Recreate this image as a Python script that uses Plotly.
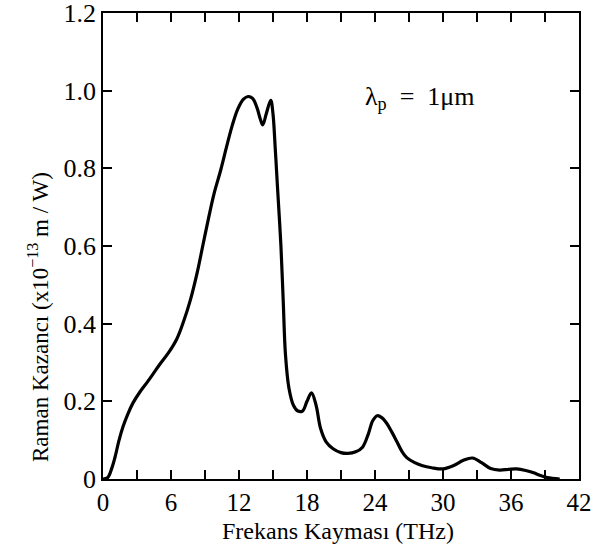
import plotly.graph_objects as go

freq_thz = [0.0, 0.4, 0.8, 1.06, 1.4, 1.77, 2.2, 2.65, 3.3, 3.97, 4.5, 5.0, 5.8, 6.5, 7.1, 7.7,
            8.3, 8.8, 9.3, 9.8, 10.4, 10.9, 11.4, 11.9, 12.4, 12.8, 13.2, 13.6, 13.9, 14.1, 14.4,
            14.8, 15.0, 15.2, 15.4, 15.7, 15.9, 16.1, 16.4, 16.8, 17.2, 17.6, 18.0, 18.4, 18.8,
            19.2, 19.7, 20.3, 21.0, 21.6, 22.3, 22.9, 23.4, 23.8, 24.2, 24.6, 25.0, 25.5, 25.9,
            26.4, 26.8, 27.5, 28.2, 29.0, 30.0, 30.9, 31.8, 32.6, 33.4, 34.2, 35.0, 35.8, 36.5,
            37.3, 38.0, 38.6, 39.2, 40.3]
gain = [0.0, 0.003, 0.03, 0.056, 0.098, 0.135, 0.168, 0.196, 0.226, 0.252, 0.274, 0.295, 0.326, 0.36,
        0.405, 0.46, 0.53, 0.60, 0.67, 0.735, 0.797, 0.855, 0.91, 0.953, 0.978, 0.985, 0.98, 0.955,
        0.925, 0.912, 0.94, 0.975, 0.94, 0.85, 0.75, 0.60, 0.46, 0.32, 0.235, 0.19, 0.175, 0.175,
        0.20, 0.222, 0.19, 0.13, 0.095, 0.078, 0.068, 0.066, 0.07, 0.082, 0.115, 0.15, 0.163,
        0.158, 0.145, 0.12, 0.098, 0.07, 0.055, 0.042, 0.034, 0.029, 0.026, 0.034, 0.048, 0.054,
        0.042, 0.027, 0.023, 0.025, 0.026, 0.022, 0.016, 0.009, 0.004, 0.0]

x_tickvals = [0, 6, 12, 18, 24, 30, 36, 42]
x_ticktext = ["0", "6", "12", "18", "24", "30", "36", "42"]
x_minor_step = 3
y_tickvals = [0, 0.2, 0.4, 0.6, 0.8, 1.0, 1.2]
y_ticktext = ["0", "0.2", "0.4", "0.6", "0.8", "1.0", "1.2"]

FONT = "Liberation Serif"

fig = go.Figure()
fig.add_trace(go.Scatter(x=freq_thz, y=gain, mode="lines",
                         line=dict(color="black", width=3.2, shape="spline", smoothing=1.0),
                         showlegend=False, hoverinfo="skip"))

fig.update_layout(
    width=601, height=552,
    margin=dict(l=103, r=22, t=13, b=73, autoexpand=False),
    paper_bgcolor="white", plot_bgcolor="white",
    font=dict(family=FONT, color="black", size=25),
    xaxis=dict(range=[0, 42], tickvals=x_tickvals, ticktext=x_ticktext,
               ticks="inside", ticklen=9, tickwidth=1.5, tickcolor="black",
               minor=dict(dtick=x_minor_step, tick0=0, ticks="inside", ticklen=9,
                          tickwidth=1.5, tickcolor="black", showgrid=False),
               showline=True, linecolor="black", linewidth=1.5, mirror="ticks",
               showgrid=False, zeroline=False, automargin=False,
               ticklabeloverflow="allow",
               tickfont=dict(family=FONT, size=25)),
    yaxis=dict(range=[0, 1.2], tickvals=y_tickvals, ticktext=y_ticktext,
               ticks="inside", ticklen=9, tickwidth=1.5, tickcolor="black",
               showline=True, linecolor="black", linewidth=1.5, mirror="ticks",
               showgrid=False, zeroline=False, automargin=False,
               ticklabeloverflow="allow",
               tickfont=dict(family=FONT, size=26)),
    annotations=[
        dict(x=28.0, y=0.98, xref="x", yref="y", text="λ<sub>p</sub>  =  1μm",
             showarrow=False, xanchor="center", yanchor="middle",
             font=dict(family=FONT, size=26, color="black")),
        dict(x=0.493, y=0, xref="paper", yref="paper", yshift=-52,
             text="Frekans Kayması (THz)", showarrow=False,
             xanchor="center", yanchor="middle",
             font=dict(family=FONT, size=24, color="black")),
        dict(x=0, y=0, xref="paper", yref="paper", xshift=-65, yshift=162,
             text="Raman Kazancı (x10<sup>−13</sup> m / W)", showarrow=False, textangle=-90,
             xanchor="center", yanchor="middle",
             font=dict(family=FONT, size=23, color="black")),
    ],
)

fig.write_html("out.html", config={"displayModeBar": False},
               post_script="document.body.style.margin='0';document.body.style.padding='0';")
